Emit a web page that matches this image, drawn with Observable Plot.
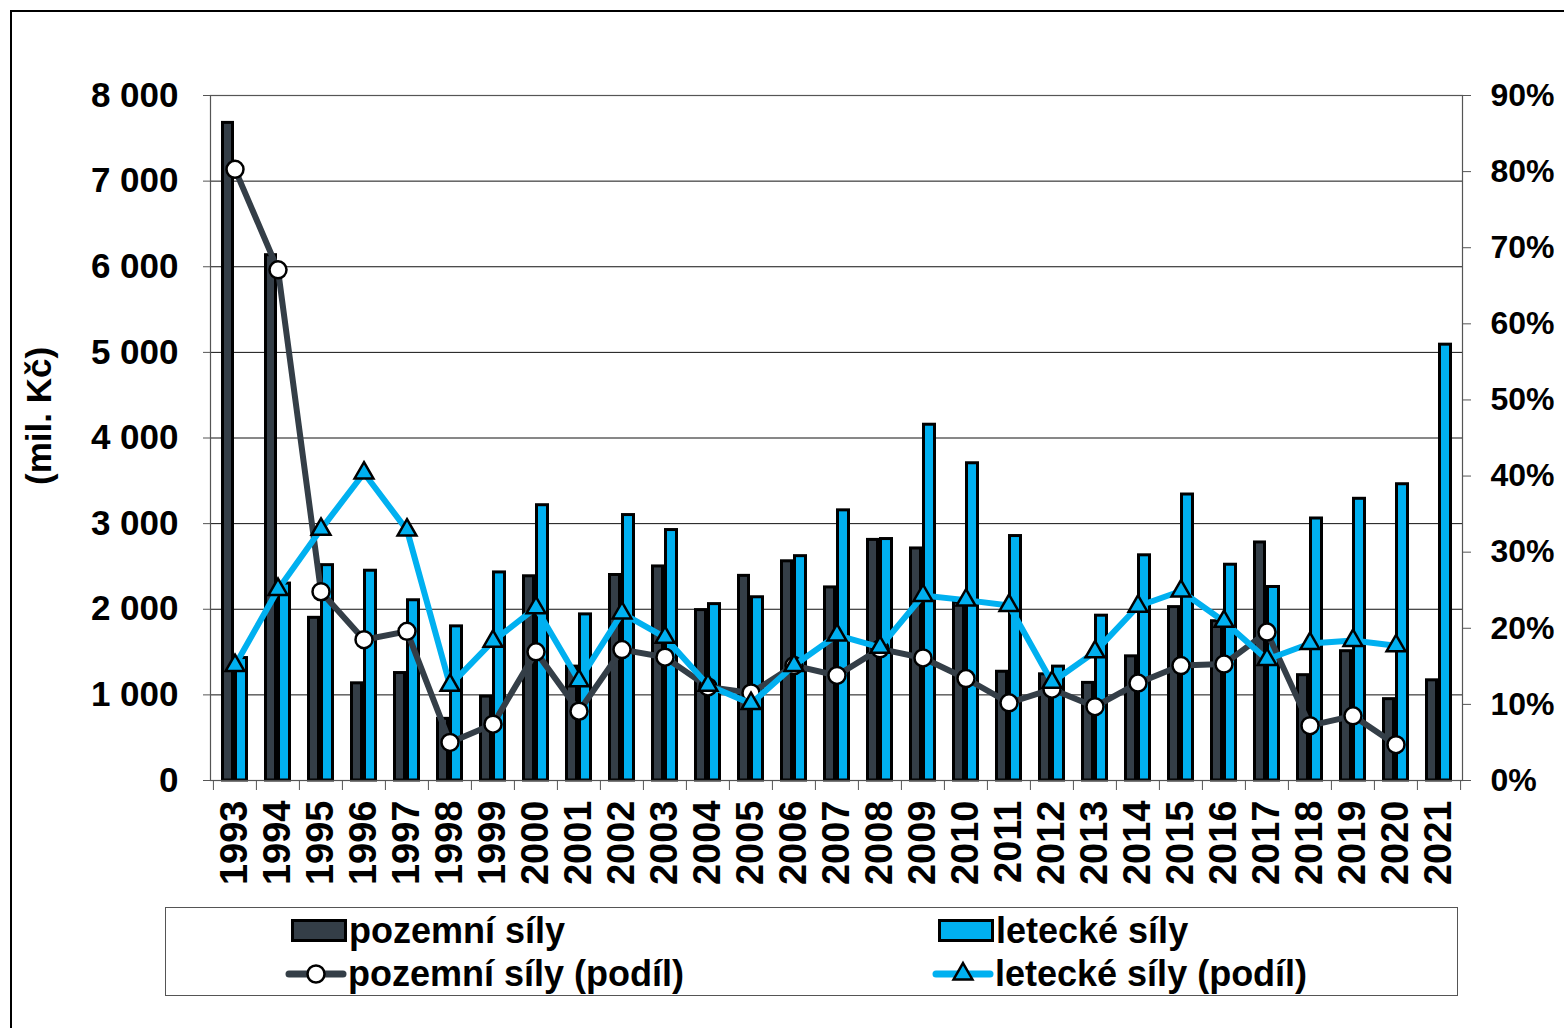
<!DOCTYPE html>
<html>
<head>
<meta charset="utf-8">
<script src="https://cdn.jsdelivr.net/npm/d3@7"></script>
<script src="https://cdn.jsdelivr.net/npm/@observablehq/plot@0.6"></script>
<style>
  html, body { margin: 0; padding: 0; background: #fff; overflow: hidden; }
  #wrap { position: relative; width: 1564px; height: 1028px; font-family: "Liberation Sans", Arial, sans-serif; font-weight: bold; }
  #border { position: absolute; left: 10px; top: 10px; width: 1600px; height: 1100px; border: 2px solid #000; box-sizing: border-box; }
  #chart { position: absolute; left: 0; top: 0; }
  #legend { position: absolute; left: 165px; top: 907px; width: 1293px; height: 89px; border: 1px solid #555; box-sizing: border-box; background: #fff; }
  .li { position: absolute; display: flex; align-items: center; font-size: 36px; color: #000; white-space: nowrap; line-height: 1; }
  .li svg { display: block; }
</style>
</head>
<body>
<div id="wrap">
  <div id="border"></div>
  <div id="chart"></div>
  <div id="legend"></div>
</div>
<script>
const years = ["1993","1994","1995","1996","1997","1998","1999","2000","2001","2002","2003","2004","2005","2006","2007","2008","2009","2010","2011","2012","2013","2014","2015","2016","2017","2018","2019","2020","2021"];
const groundValues = [7680, 6135, 1900, 1135, 1255, 720, 980, 2385, 1330, 2400, 2500, 1990, 2390, 2560, 2255, 2810, 2710, 2080, 1270, 1240, 1140, 1450, 2025, 1860, 2780, 1230, 1510, 950, 1170];
const airValues = [1430, 2300, 2515, 2450, 2105, 1800, 2430, 3215, 1940, 3100, 2925, 2060, 2140, 2620, 3155, 2820, 4155, 3705, 2855, 1330, 1925, 2630, 3340, 2520, 2260, 3060, 3290, 3460, 5090];
const groundShare = [80.3, 67.1, 24.8, 18.5, 19.6, 5.0, 7.4, 16.9, 9.1, 17.2, 16.2, 12.3, 11.5, 15.1, 13.8, 17.3, 16.1, 13.4, 10.2, 12.0, 9.7, 12.8, 15.1, 15.3, 19.5, 7.2, 8.5, 4.7, null];
const airShare = [15.1, 25.1, 33.0, 40.4, 32.9, 12.5, 18.3, 22.7, 13.1, 22.0, 18.8, 12.5, 10.1, 15.1, 19.1, 17.5, 24.3, 23.7, 23.0, 12.9, 16.9, 22.9, 24.9, 20.9, 15.9, 18.0, 18.4, 17.7, null];
const leftTicks = [0, 1000, 2000, 3000, 4000, 5000, 6000, 7000, 8000];
const rightTicks = [0, 10, 20, 30, 40, 50, 60, 70, 80, 90];
const seriesNames = ["pozemní síly", "letecké síly", "pozemní síly (podíl)", "letecké síly (podíl)"];
const yTitle = "(mil. Kč)";

const groundColor = "#343e47";
const airColor = "#00b0f0";

// secondary axis: 0–90 % mapped onto 0–8000
const leftMax = 8000, rightMax = 90;
const toLeft = p => p * leftMax / rightMax;

const rows = years.map((y, i) => ({year: y, ground: groundValues[i], air: airValues[i], gShare: groundShare[i], aShare: airShare[i]}));
const gRows = rows.filter(d => d.gShare != null);
const aRows = rows.filter(d => d.aShare != null);

const fmt = d3.formatLocale({thousands: " ", grouping: [3], decimal: ","}).format(",");

const W = 1564, H = 1028;
const mL = 210, mR = 102, mT = 95, mB = 248;
const band = (W - mL - mR) / years.length;

const chart = Plot.plot({
  width: W, height: H,
  marginLeft: mL, marginRight: mR, marginTop: mT, marginBottom: mB,
  style: {fontFamily: "'Liberation Sans', Arial, sans-serif", fontWeight: "bold", color: "#000", background: "transparent", overflow: "visible"},
  x: {type: "band", domain: years, padding: 0, label: null},
  y: {domain: [0, leftMax], label: null},
  marks: [
    Plot.gridY(leftTicks, {stroke: "#111", strokeOpacity: 1, strokeWidth: 1}),
    Plot.barY(rows, {x: "year", y: "ground", fill: groundColor, stroke: "#000", strokeWidth: 3, insetLeft: 9.5, insetRight: 23.5}),
    Plot.barY(rows, {x: "year", y: "air", fill: airColor, stroke: "#000", strokeWidth: 3, insetLeft: 22.5, insetRight: 9.5}),
    Plot.frame({stroke: "#555", strokeWidth: 1.2}),
    Plot.line(gRows, {x: "year", y: d => toLeft(d.gShare), stroke: groundColor, strokeWidth: 6}),
    Plot.dot(gRows, {x: "year", y: d => toLeft(d.gShare), r: 8.5, fill: "#fff", stroke: "#000", strokeWidth: 2.5}),
    Plot.line(aRows, {x: "year", y: d => toLeft(d.aShare), stroke: airColor, strokeWidth: 6}),
    Plot.dot(aRows, {x: "year", y: d => toLeft(d.aShare), symbol: "triangle", r: 7, fill: airColor, stroke: "#000", strokeWidth: 2.5}),
    Plot.axisY({ticks: leftTicks, anchor: "left", tickSize: 7, tickPadding: 25, tickFormat: d => fmt(d), fontSize: 35, stroke: "#555", label: null}),
    Plot.axisY({ticks: rightTicks.map(toLeft), anchor: "right", tickSize: 8, tickPadding: 20, tickFormat: d => Math.round(d * rightMax / leftMax) + "%", fontSize: 32, stroke: "#555", label: null}),
    Plot.axisX({anchor: "bottom", tickSize: 10, dx: -band / 2, tickFormat: () => "", stroke: "#555", label: null}),
    Plot.axisX({ticks: [years[years.length - 1]], anchor: "bottom", tickSize: 10, dx: band / 2, tickFormat: () => "", stroke: "#555", label: null}),
    Plot.axisX({anchor: "bottom", tickSize: 0, tickPadding: 20, tickRotate: -90, fontSize: 38, label: null}),
    Plot.text([yTitle], {frameAnchor: "left", text: d => d, rotate: -90, dx: -171, dy: 47, fontSize: 35, fontWeight: "bold", fill: "#000"})
  ]
});
document.getElementById("chart").appendChild(chart);

// legend
const legend = document.getElementById("legend");
function item(left, top, swatch, label) {
  const div = document.createElement("div");
  div.className = "li";
  div.style.left = left + "px";
  div.style.top = top + "px";
  div.style.height = "40px";
  div.innerHTML = swatch + '<span style="margin-left:1px">' + label + '</span>';
  legend.appendChild(div);
}
const rectSw = c => `<svg width="58" height="40"><rect x="2.5" y="9.5" width="53" height="20" fill="${c}" stroke="#000" stroke-width="3"/></svg>`;
const circSw = `<svg width="62" height="40"><line x1="4" x2="58" y1="20" y2="20" stroke="${groundColor}" stroke-width="7" stroke-linecap="round"/><circle cx="31" cy="20" r="8.5" fill="#fff" stroke="#000" stroke-width="2.5"/></svg>`;
const triSw = `<svg width="62" height="40"><line x1="4" x2="58" y1="20" y2="20" stroke="${airColor}" stroke-width="7" stroke-linecap="round"/><path d="${d3.symbol(d3.symbolTriangle, Math.PI * 7 * 7)()}" transform="translate(31,20)" fill="${airColor}" stroke="#000" stroke-width="2.5"/></svg>`;
// positions relative to legend box (box at 165,907)
item(124, 3, rectSw(groundColor), seriesNames[0]);
item(771, 3, rectSw(airColor), seriesNames[1]);
item(119, 46, circSw, seriesNames[2]);
item(766, 46, triSw, seriesNames[3]);
</script>
</body>
</html>
